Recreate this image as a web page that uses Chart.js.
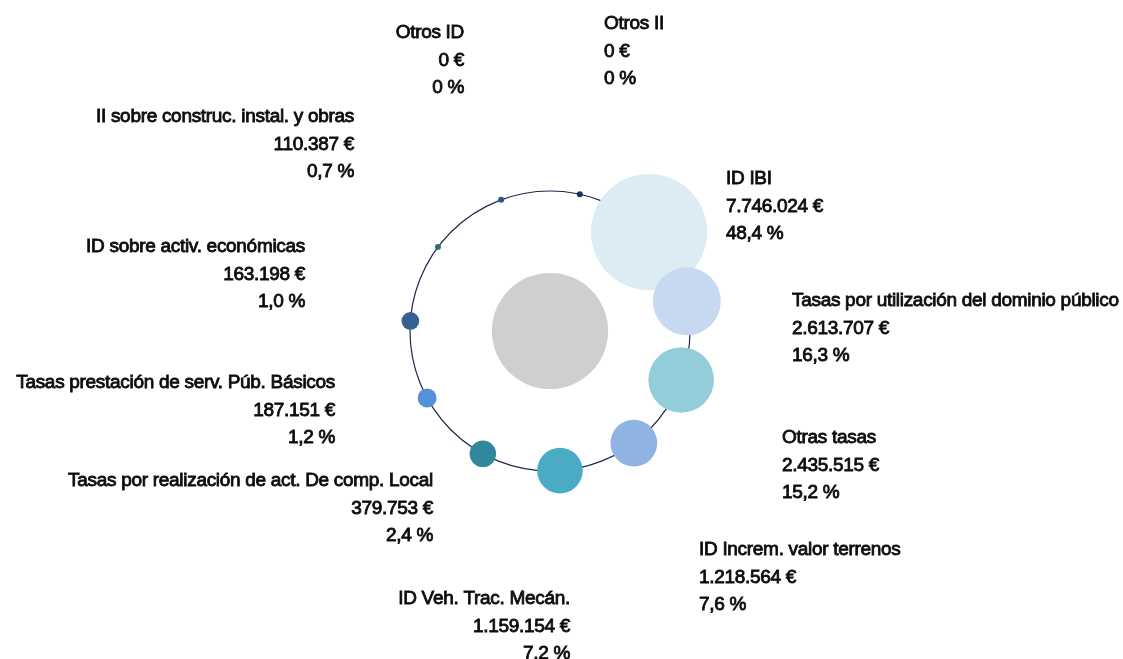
<!DOCTYPE html>
<html lang="es">
<head>
    <meta charset="UTF-8">
    <title>Ingresos tributarios</title>
    <script src="https://cdn.jsdelivr.net/npm/chart.js"></script>
    <style>
        body {
            margin: 0;
            background: #ffffff;
            font-family: "Liberation Sans", Arial, sans-serif;
        }
        #chartContainer {
            width: 1123px;
            height: 659px;
        }
    </style>
</head>
<body>
    <div id="chartContainer">
        <canvas id="myChart"></canvas>
    </div>

    <script>
        // categories clockwise round the ring, starting near the top
        const categories = [
            'Otros II',
            'ID IBI',
            'Tasas por utilización del dominio público',
            'Otras tasas',
            'ID Increm. valor terrenos',
            'ID Veh. Trac. Mecán.',
            'Tasas por realización de act. De comp. Local',
            'Tasas prestación de serv. Púb. Básicos',
            'ID sobre activ. económicas',
            'II sobre construc. instal. y obras',
            'Otros ID'
        ];
        const values = [0, 7746024, 2613707, 2435515, 1218564, 1159154, 379753, 187151, 163198, 110387, 0];
        const colors = ['#1d3556', '#dbedf3', '#c6d9f0', '#93cdd9', '#8fb4e3', '#4aabc5',
                        '#31889b', '#5590da', '#386193', '#2e6e78', '#2e5688'];

        // where each label block sits: [x, y of first line, align]
        const labelPos = [
            [604, 24, 'left'], [726, 179, 'left'], [792, 301, 'left'], [782, 438, 'left'],
            [699, 550, 'left'], [570, 599, 'right'], [433, 481, 'right'], [335, 383, 'right'],
            [305, 247, 'right'], [354, 117, 'right'], [464, 33, 'right']
        ];

        const total = values.reduce((a, b) => a + b, 0);
        const RING = 140;        // ring radius (1 unit = 1px)
        const START = 12.3;      // angle of the first bubble, degrees from top
        const STEP = 360 / categories.length;

        function bubbleRadius(v) {
            // shares below 1 % are just a marker on the ring
            if (v / total < 0.01) return 3;
            return 0.5 + 0.0207 * Math.sqrt(v);
        }

        function euros(v) {
            return String(v).replace(/\B(?=(\d{3})+(?!\d))/g, '.') + ' €';
        }

        function percent(v) {
            if (v === 0) return '0 %';
            return (v / total * 100).toFixed(1).replace('.', ',') + ' %';
        }

        const points = values.map((v, i) => {
            const a = (START + i * STEP) * Math.PI / 180;
            return { x: RING * Math.sin(a), y: RING * Math.cos(a), r: bubbleRadius(v) };
        });
        const maxR = Math.max(...points.map(p => p.r));

        const ringPlugin = {
            id: 'ring',
            beforeDatasetsDraw(chart) {
                const { ctx, scales: { x, y } } = chart;
                const cx = x.getPixelForValue(0);
                const cy = y.getPixelForValue(0);
                const r = x.getPixelForValue(RING) - cx;
                ctx.save();
                ctx.beginPath();
                ctx.arc(cx, cy, r, 0, Math.PI * 2);
                ctx.strokeStyle = '#1b2b4b';
                ctx.lineWidth = 1.2;
                ctx.stroke();
                ctx.restore();
            }
        };

        const labelPlugin = {
            id: 'labels',
            afterDatasetsDraw(chart) {
                const ctx = chart.ctx;
                ctx.save();
                ctx.font = '19px "Liberation Sans", Arial, sans-serif';
                ctx.letterSpacing = '-0.3px';
                ctx.fillStyle = '#0d0d0d';
                ctx.strokeStyle = '#0d0d0d';
                ctx.lineWidth = 0.85;
                ctx.textBaseline = 'middle';
                categories.forEach((name, i) => {
                    const [lx, ly, align] = labelPos[i];
                    ctx.textAlign = align;
                    [name, euros(values[i]), percent(values[i])].forEach((t, k) => {
                        ctx.fillText(t, lx, ly + k * 27.5);
                        ctx.strokeText(t, lx, ly + k * 27.5);
                    });
                });
                ctx.restore();
            }
        };

        const ctx = document.getElementById('myChart').getContext('2d');
        let myChart = new Chart(ctx, {
            type: 'bubble',
            data: {
                labels: categories,
                datasets: [{
                    label: 'Importe',
                    data: points,
                    backgroundColor: colors,
                    borderWidth: 0
                }, {
                    label: 'Total',
                    data: [{ x: 0, y: 0, r: maxR }],
                    backgroundColor: '#cfcfcf',
                    borderWidth: 0
                }]
            },
            options: {
                responsive: true,
                maintainAspectRatio: false,
                animation: false,
                layout: { padding: 0, autoPadding: false },
                plugins: {
                    legend: { display: false },
                    tooltip: { enabled: false }
                },
                scales: {
                    x: { display: false, min: -550, max: 573 },
                    y: { display: false, min: -328, max: 331 }
                }
            },
            plugins: [ringPlugin, labelPlugin]
        });
    </script>
</body>
</html>
